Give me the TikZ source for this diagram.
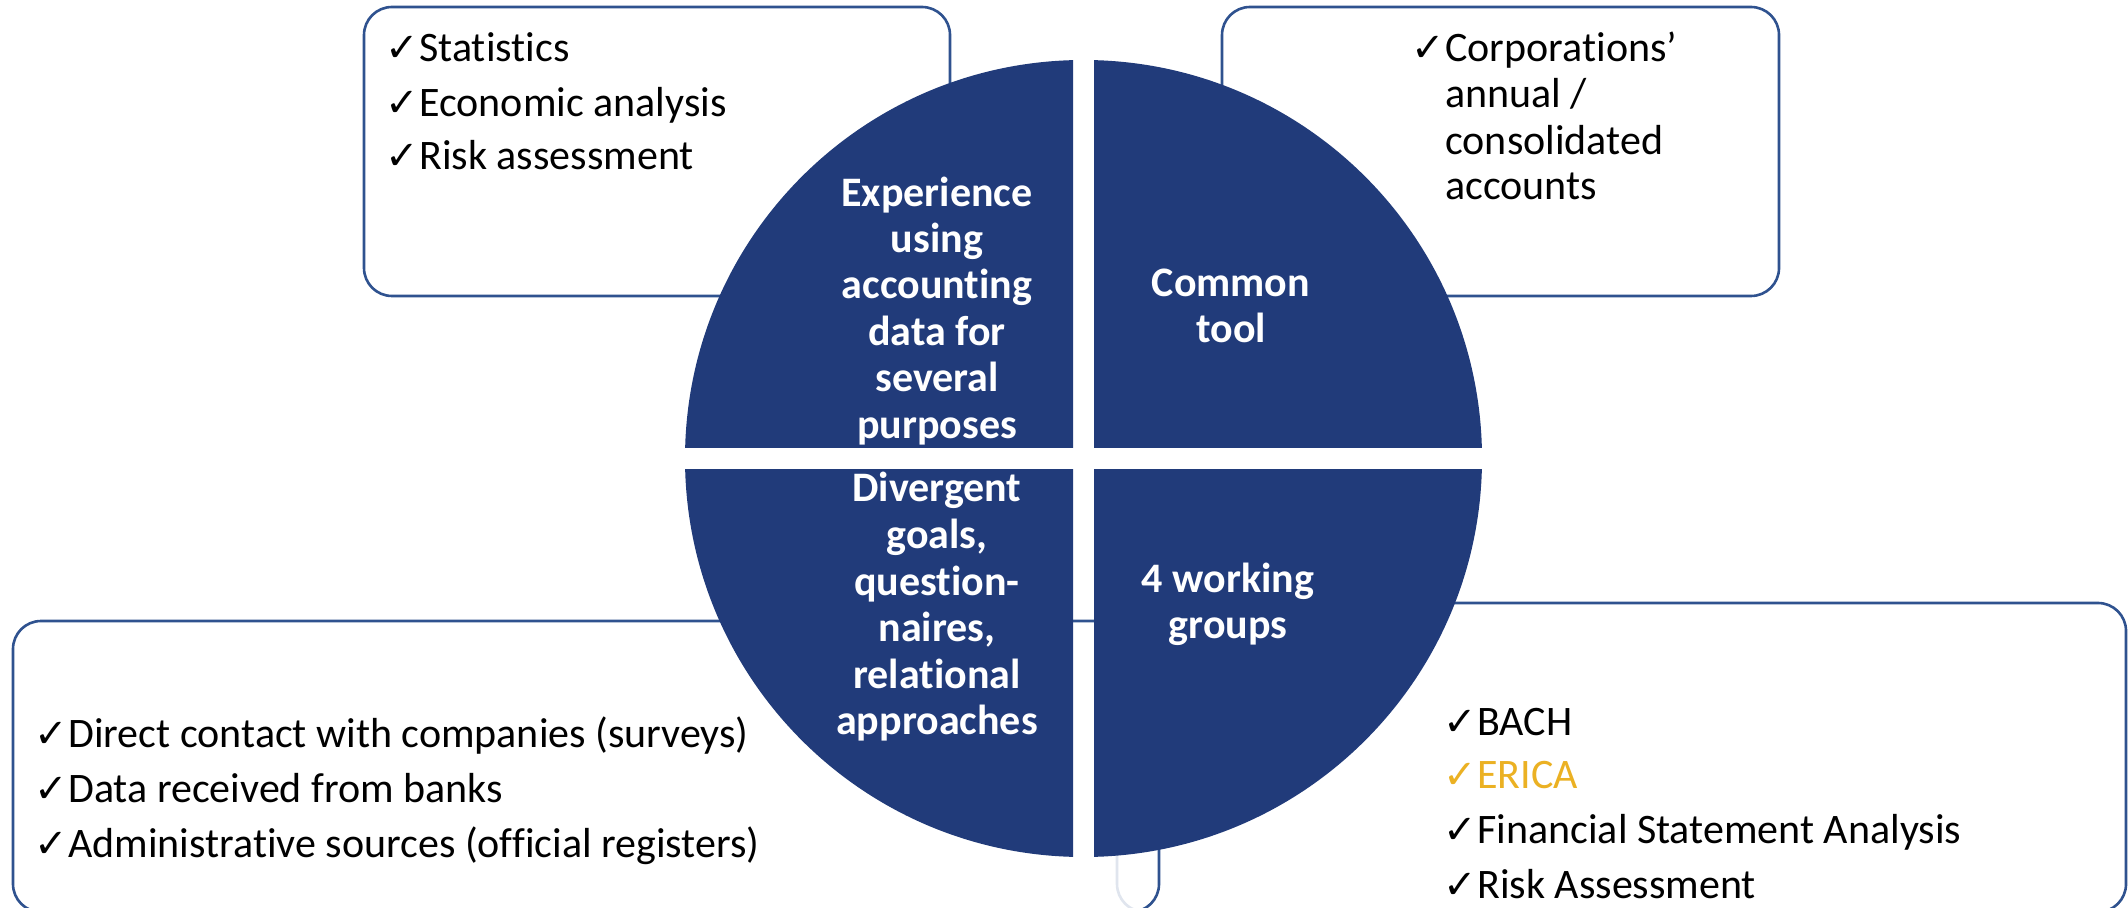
\documentclass[tikz,border=0pt]{standalone}
\usepackage{fontspec}
\setmainfont{Carlito}[Ligatures=NoCommon]
\newfontfamily\symfont{DejaVu Sans}
\definecolor{navy}{RGB}{33,59,122}
\definecolor{edge}{RGB}{47,82,143}
\definecolor{gold}{RGB}{235,177,35}
\newcommand\chk{\makebox[17pt][l]{\symfont\fontsize{20}{20}\selectfont ✓}}
\tikzset{
  box/.style={draw=edge, line width=1.3pt, rounded corners=14pt, fill=white},
  item/.style={anchor=base west, inner sep=0pt, font=\fontsize{21}{25}\selectfont, text=black},
  lbl/.style={anchor=base, inner sep=0pt, font=\bfseries\fontsize{21}{25}\selectfont, text=white},
  quad/.style={fill=navy}
}
\begin{document}
\begin{tikzpicture}[x=0.5pt,y=-0.5pt]
\useasboundingbox (0,0) rectangle (2128,908);
\clip (0,0) rectangle (2128,908);
% boxes
\draw[box] (364,7) rectangle (950,296);
\draw[box] (1222,7) rectangle (1779,296);
\draw[box] (1117,603) rectangle (2126,912);
\draw[box, fill opacity=0.85] (13,621) rectangle (1159,912);
% circle quadrants
\coordinate (c) at (1083.5,458.5);
\begin{scope}\clip (0,0) rectangle (1073,448); \fill[quad] (c) circle[radius=199.25pt]; \end{scope}
\begin{scope}\clip (1094,0) rectangle (2128,448); \fill[quad] (c) circle[radius=199.25pt]; \end{scope}
\begin{scope}\clip (0,469) rectangle (1073,908); \fill[quad] (c) circle[radius=199.25pt]; \end{scope}
\begin{scope}\clip (1094,469) rectangle (2128,908); \fill[quad] (c) circle[radius=199.25pt]; \end{scope}
% top-left box
\node[item] (s1) at (385,62) {\chk Statistics};
\node[item] (s2) at (385,117) {\chk Economic analysis};
\node[item] (s3) at (385,170) {\chk Risk assessment};
% top-right box
\node[item] (c1) at (1411,62) {\chk Corporations’};
\node[item] (c2) at (1445,108) {annual /};
\node[item] (c3) at (1445,155) {consolidated};
\node[item] (c4) at (1445,200) {accounts};
% bottom-left box
\node[item] (d1) at (34,747) {\chk Direct contact with companies (surveys)};
\node[item] (d2) at (34,802) {\chk Data received from banks};
\node[item] (d3) at (34,857) {\chk Administrative sources (official registers)};
% bottom-right box
\node[item] (b1) at (1443,735) {\chk BACH};
\node[item, text=gold] (b2) at (1443,788) {\chk ERICA};
\node[item] (b3) at (1443,843) {\chk Financial Statement Analysis};
\node[item] (b4) at (1443,898) {\chk Risk Assessment};
% circle labels
\node[lbl] (q11) at (937,207) {Experience};
\node[lbl] (q12) at (937,253) {using};
\node[lbl] (q13) at (937,299) {accounting};
\node[lbl] (q14) at (937,346) {data for};
\node[lbl] (q15) at (937,392) {several};
\node[lbl] (q16) at (937,438) {purposes};
\node[lbl] (q21) at (1231,297) {Common};
\node[lbl] (q22) at (1231,343) {tool};
\node[lbl] (q31) at (937,502) {Divergent};
\node[lbl] (q32) at (937,548.5) {goals,};
\node[lbl] (q33) at (937,595) {question-};
\node[lbl] (q34) at (937,641.5) {naires,};
\node[lbl] (q35) at (937,688) {relational};
\node[lbl] (q36) at (937,734.5) {approaches};
\node[lbl] (q41) at (1228,592) {4 working};
\node[lbl] (q42) at (1228,638) {groups};
\end{tikzpicture}
\end{document}
